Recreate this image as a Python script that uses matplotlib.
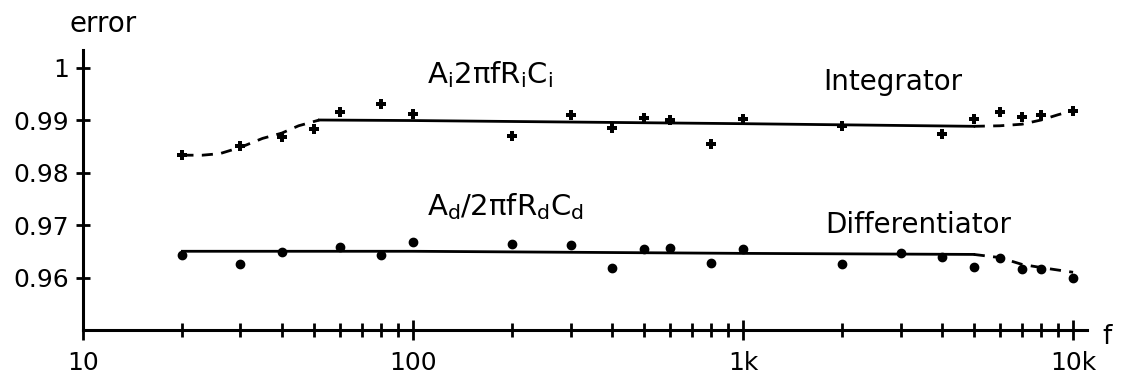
import matplotlib
matplotlib.use("Agg")
import matplotlib.pyplot as plt
from matplotlib.ticker import FixedLocator, NullFormatter

# Integrator measurements
int_f = [20, 30, 40, 50, 60, 80, 100, 200, 300, 400, 500, 600, 800, 1000,
         2000, 4000, 5000, 6000, 7000, 8000, 10000]
int_y = [0.9834, 0.9850, 0.9867, 0.9882, 0.9916, 0.9931, 0.9912, 0.9870, 0.9910,
         0.9884, 0.9903, 0.9900, 0.9855, 0.9901, 0.9888, 0.9874, 0.9901, 0.9916,
         0.9905, 0.9910, 0.9918]

# Differentiator measurements
dif_f = [20, 30, 40, 60, 80, 100, 200, 300, 400, 500, 600, 800, 1000,
         2000, 3000, 4000, 5000, 6000, 7000, 8000, 10000]
dif_y = [0.9642, 0.9625, 0.9648, 0.9659, 0.9642, 0.9667, 0.9663, 0.9661, 0.9619,
         0.9655, 0.9657, 0.9627, 0.9655, 0.9625, 0.9646, 0.9640, 0.9620, 0.9638,
         0.9617, 0.9617, 0.9600]

# Hand-drawn trend curves
int_dash1_f = [20, 23, 26, 30, 35, 40, 45, 52]
int_dash1_y = [0.9833, 0.9833, 0.9836, 0.9848, 0.9865, 0.9875, 0.9889, 0.9900]
int_solid_f = [52, 100, 1000, 5000]
int_solid_y = [0.9900, 0.9899, 0.9893, 0.9888]
int_dash2_f = [5000, 6000, 7000, 8000, 9000, 10000]
int_dash2_y = [0.9888, 0.9889, 0.9892, 0.9900, 0.9910, 0.9918]

dif_solid_f = [20, 100, 1000, 5000]
dif_solid_y = [0.9650, 0.9650, 0.9646, 0.9644]
dif_dash_f = [5000, 6000, 7000, 8000, 10000]
dif_dash_y = [0.9644, 0.9638, 0.9625, 0.9619, 0.9610]

y_ticks = [0.96, 0.97, 0.98, 0.99, 1.0]
y_tick_labels = ["0.96", "0.97", "0.98", "0.99", "1"]
x_ticks = [10, 100, 1000, 10000]
x_tick_labels = ["10", "100", "1k", "10k"]

plt.rcParams['font.family'] = ['DejaVu Sans']
fig = plt.figure(figsize=(11.25, 3.86), dpi=100)
ax = fig.add_axes([0.0738, 0.145, 0.8922, 0.725])
ax.set_xscale('log')
ax.set_xlim(10, 11000)
ax.set_ylim(0.95, 1.0033)

lw = 2.0
ax.plot(int_dash1_f, int_dash1_y, color='black', lw=lw, ls=(0, (4, 3)))
ax.plot(int_solid_f, int_solid_y, color='black', lw=lw)
ax.plot(int_dash2_f, int_dash2_y, color='black', lw=lw, ls=(0, (4, 3)))
ax.plot(dif_solid_f, dif_solid_y, color='black', lw=lw)
ax.plot(dif_dash_f, dif_dash_y, color='black', lw=lw, ls=(0, (4, 3)))

ax.plot(int_f, int_y, ls='none', marker='P', ms=7, color='black', mew=0)
ax.plot(dif_f, dif_y, ls='none', marker='o', ms=6, color='black')

for s in ['top', 'right']:
    ax.spines[s].set_visible(False)
for s in ['left', 'bottom']:
    ax.spines[s].set_linewidth(2.2)

ax.yaxis.set_major_locator(FixedLocator(y_ticks))
ax.set_yticklabels(y_tick_labels)
ax.xaxis.set_major_locator(FixedLocator(x_ticks))
ax.set_xticklabels(x_tick_labels)
minor = [m * d for d in (10, 100, 1000) for m in range(2, 10)]
ax.xaxis.set_minor_locator(FixedLocator(minor))
ax.xaxis.set_minor_formatter(NullFormatter())
ax.tick_params(axis='y', direction='inout', length=10, width=2, labelsize=18, pad=5)
ax.tick_params(axis='x', which='major', direction='inout', length=14, width=2,
               labelsize=18, pad=8)
ax.tick_params(axis='x', which='minor', direction='inout', length=10, width=2)

fig.text(0.062, 0.917, "error", fontsize=20, ha='left', va='baseline')
fig.text(0.984, 0.127, "f", fontsize=19, ha='center', va='center')

ax.text(110, 0.9971, r"$\mathregular{A_i2\pi fR_iC_i}$", fontsize=21, ha='left', va='baseline')
ax.text(1750, 0.9958, "Integrator", fontsize=20, ha='left', va='baseline')
ax.text(110, 0.9718, r"$\mathregular{A_d/2\pi fR_dC_d}$", fontsize=21, ha='left', va='baseline')
ax.text(1770, 0.9684, "Differentiator", fontsize=20, ha='left', va='baseline')

fig.savefig("out.png", dpi=100)
